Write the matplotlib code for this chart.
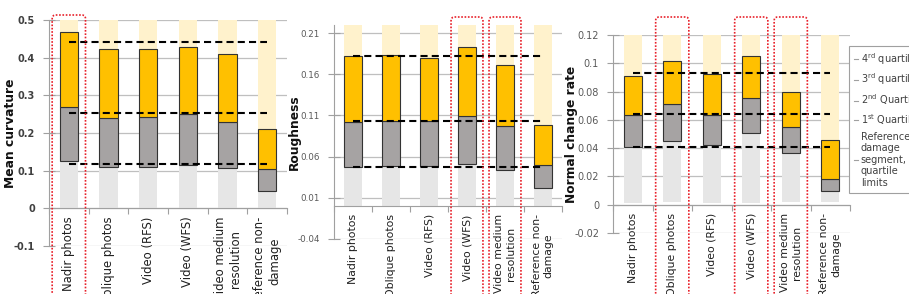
import matplotlib
matplotlib.use('Agg')
import matplotlib.pyplot as plt
from matplotlib.patches import FancyBboxPatch
from matplotlib.lines import Line2D

categories = ['Nadir photos', 'Oblique photos', 'Video (RFS)', 'Video (WFS)',
              'Video medium\nresolution', 'Reference non-\ndamage']

# mean curvature: min, q1, median, q3, max
mc_min = [0, 0, 0, 0, 0, 0]
mc_q1 = [0.125, 0.111, 0.111, 0.115, 0.108, 0.046]
mc_med = [0.270, 0.239, 0.243, 0.250, 0.230, 0.105]
mc_q3 = [0.468, 0.422, 0.422, 0.429, 0.410, 0.211]
mc_max = [0.5, 0.5, 0.5, 0.5, 0.5, 0.5]
mc_ref = [0.118, 0.253, 0.441]

# roughness
ro_min = [0, 0, 0, 0, 0, 0]
ro_q1 = [0.0474, 0.0482, 0.048, 0.0506, 0.0433, 0.0222]
ro_med = [0.1023, 0.1036, 0.1028, 0.1096, 0.0974, 0.0498]
ro_q3 = [0.1824, 0.1836, 0.1804, 0.1938, 0.1714, 0.0978]
ro_max = [0.22, 0.22, 0.22, 0.22, 0.22, 0.22]
ro_ref = [0.0474, 0.1032, 0.1824]

# normal change rate
nc_min = [0.001, 0.002, 0.001, 0.001, 0.002, 0.002]
nc_q1 = [0.0407, 0.0454, 0.0419, 0.051, 0.0365, 0.0094]
nc_med = [0.0635, 0.0713, 0.0635, 0.0758, 0.0553, 0.0184]
nc_q3 = [0.091, 0.1016, 0.0925, 0.1054, 0.0798, 0.0459]
nc_max = [0.12, 0.12, 0.12, 0.12, 0.12, 0.12]
nc_ref = [0.0407, 0.064, 0.0932]

legend_labels = [r'4$^{\mathdefault{rd}}$ quartile', r'3$^{\mathdefault{rd}}$ quartile',
                 r'2$^{\mathdefault{nd}}$ Quartile', r'1$^{\mathdefault{st}}$ Quartile',
                 'Reference -\ndamage\nsegment,\nquartile\nlimits']

W, H = 909, 294
fig = plt.figure(figsize=(W / 100, H / 100), dpi=100)

light_grey = '#E6E6E6'
grey = '#A6A3A3'
orange = '#FFC000'
light_yellow = '#FFF2CC'
grid_c = '#BFBFBF'


def panel(rect, mn, q1, med, q3, mx, ref, ylim, yticks, ylabels, ylab,
          tick_fs, tick_c, tick_w, cat_fs, label_x, highlight, box_top):
    ax = fig.add_axes(rect)
    x = range(len(categories))
    w = 0.46
    ax.bar(x, [b - a for a, b in zip(mn, q1)], w, bottom=mn, color=light_grey, zorder=2)
    ax.bar(x, [b - a for a, b in zip(q1, med)], w, bottom=q1, color=grey,
           edgecolor='#333333', linewidth=0.8, zorder=3)
    ax.bar(x, [b - a for a, b in zip(med, q3)], w, bottom=med, color=orange,
           edgecolor='#333333', linewidth=0.8, zorder=3)
    ax.bar(x, [b - a for a, b in zip(q3, mx)], w, bottom=q3, color=light_yellow, zorder=2)
    for r in ref:
        ax.plot([0, len(categories) - 1], [r, r], color='black', lw=1.5,
                ls=(0, (3.4, 2.0)), zorder=4)
    ax.set_xlim(-0.5, len(categories) - 0.5)
    ax.set_ylim(*ylim)
    ax.set_yticks(yticks)
    ax.set_yticklabels(ylabels, fontsize=tick_fs, color=tick_c, fontweight=tick_w)
    ax.yaxis.grid(True, color=grid_c, lw=0.9, zorder=0)
    ax.set_axisbelow(True)
    for s in ['top', 'right']:
        ax.spines[s].set_visible(False)
    ax.spines['left'].set_color('#A0A0A0')
    ax.spines['bottom'].set_color('#A0A0A0')
    ax.spines['bottom'].set_position(('data', 0))
    ax.set_xticks([i + 0.5 for i in range(-1, len(categories))])
    ax.set_xticklabels([])
    ax.set_xticks(list(x), minor=True)
    ax.set_xticklabels(categories, minor=True, rotation=90, fontsize=cat_fs,
                       color='#202020', va='top', ha='center')
    ax.tick_params(axis='x', which='major', length=4, color='#A0A0A0', direction='out')
    ax.tick_params(axis='x', which='minor', length=0, pad=6)
    ax.tick_params(axis='y', length=8, color='#A0A0A0', direction='inout', pad=6)
    ax.set_ylabel(ylab, fontsize=8.8, fontweight='bold', color='#111111')
    ax.yaxis.set_label_coords(label_x, 0.5)

    # red dotted highlight boxes
    fig.canvas.draw()
    inv = fig.transFigure.inverted()
    for i in highlight:
        x0 = ax.transData.transform((i - 0.42, 0))[0]
        x1 = ax.transData.transform((i + 0.42, 0))[0]
        fx0 = inv.transform((x0, 0))[0]
        fx1 = inv.transform((x1, 0))[0]
        p = FancyBboxPatch((fx0, -0.2), fx1 - fx0, box_top + 0.2,
                           boxstyle='round,pad=0,rounding_size=0.004',
                           mutation_aspect=W / H, transform=fig.transFigure,
                           fill=False, edgecolor='#E8202A', lw=1.2, ls=(0, (1, 1)),
                           zorder=10, clip_on=False)
        fig.patches.append(p)
    return ax


ax1 = panel([49 / W, 1 - 246 / H, 238 / W, 226 / H], mc_min, mc_q1, mc_med, mc_q3, mc_max,
            mc_ref, (-0.1, 0.5), [-0.1, 0, 0.1, 0.2, 0.3, 0.4, 0.5],
            ['-0.1', '0', '0.1', '0.2', '0.3', '0.4', '0.5'], 'Mean curvature',
            7, '#404040', 'bold', 8.4, -0.134, [0], 1 - 15 / H)

ax2 = panel([334 / W, 1 - 238.7 / H, 228 / W, 213.7 / H], ro_min, ro_q1, ro_med, ro_q3, ro_max,
            ro_ref, (-0.04, 0.22), [-0.04, 0.01, 0.06, 0.11, 0.16, 0.21],
            ['-0.04', '0.01', '0.06', '0.11', '0.16', '0.21'], 'Roughness',
            6.3, '#595959', 'normal', 7.8, -0.145, [3, 4], 1 - 17 / H)

ax3 = panel([613 / W, 1 - 233 / H, 237 / W, 198 / H], nc_min, nc_q1, nc_med, nc_q3, nc_max,
            nc_ref, (-0.02, 0.12), [-0.02, 0, 0.02, 0.04, 0.06, 0.08, 0.1, 0.12],
            ['-0.02', '0', '0.02', '0.04', '0.06', '0.08', '0.1', '0.12'], 'Normal change rate',
            7, '#595959', 'normal', 7.8, -0.148, [1, 3, 4], 1 - 17 / H)

handles = [Line2D([], [], color='#A0A0A0', lw=0.8) for _ in legend_labels]
leg = fig.legend(handles, legend_labels, loc='upper left',
                 bbox_to_anchor=(849 / W, 1 - 46 / H), borderaxespad=0,
                 fontsize=7, handlelength=0.4, handletextpad=0.3,
                 labelspacing=0.5, fancybox=False, framealpha=1,
                 edgecolor='#A0A0A0', borderpad=0.5)
leg.get_frame().set_linewidth(0.8)
for t in leg.get_texts():
    t.set_color('#404040')

fig.savefig('out.png', dpi=100)
